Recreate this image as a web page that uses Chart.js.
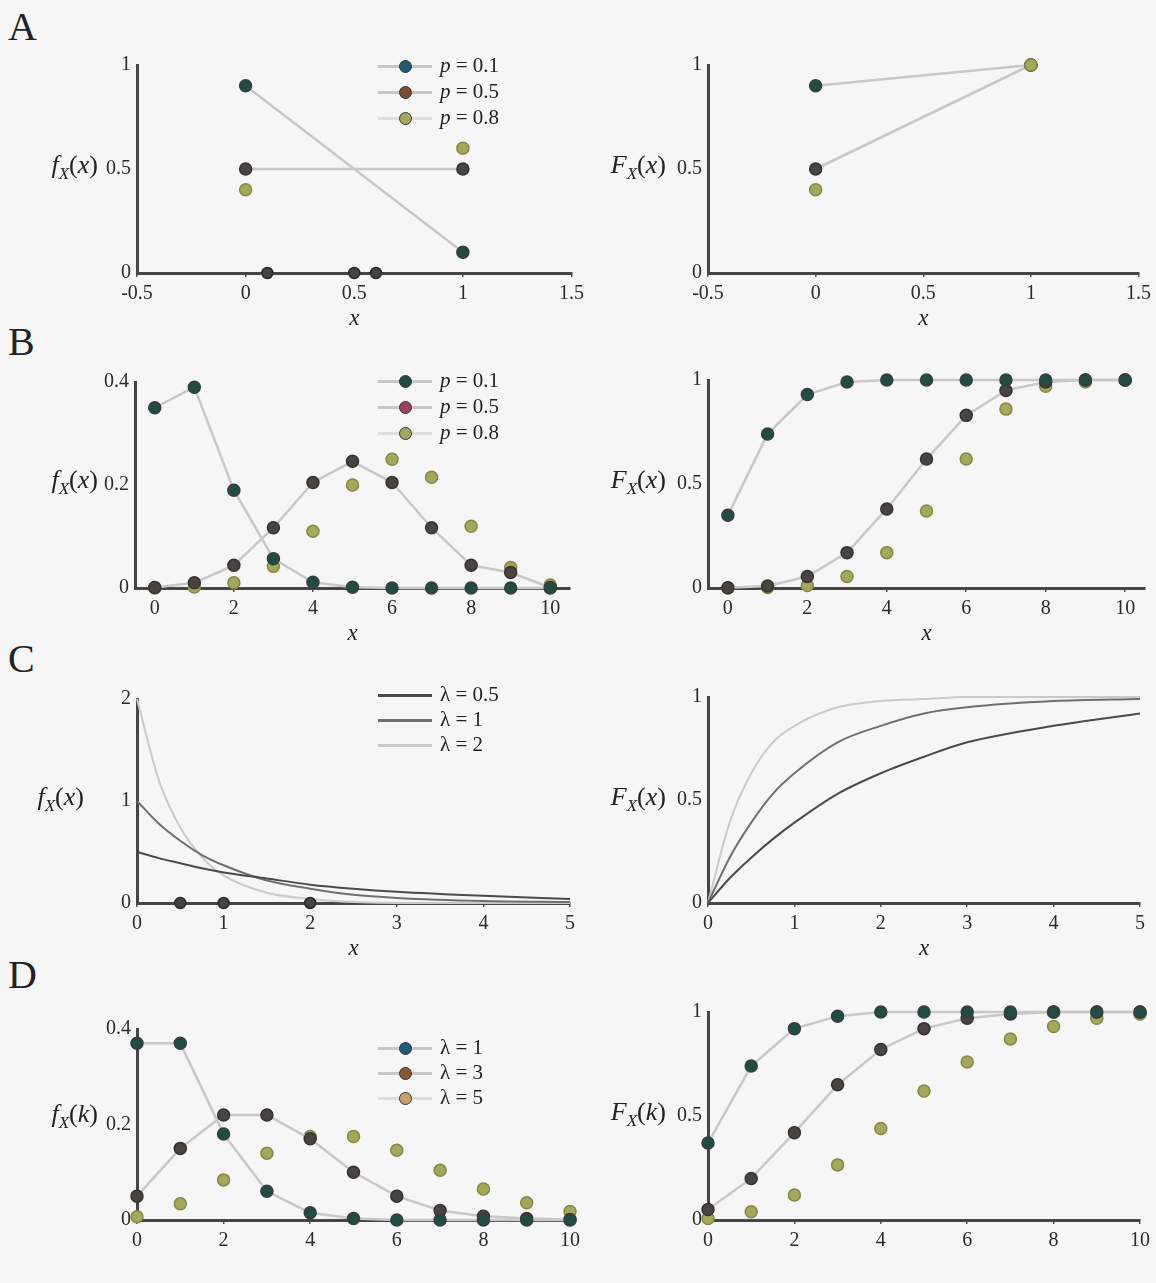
<!DOCTYPE html>
<html>
<head>
<meta charset="utf-8">
<script src="https://cdn.jsdelivr.net/npm/chart.js@4.4.1/dist/chart.umd.min.js"></script>
<style>
  body { margin: 0; background: #f6f6f6; }
  #fig { position: relative; width: 1156px; height: 1283px; overflow: hidden;
         font-family: "Liberation Serif", "DejaVu Serif", serif; color: #222; }
  .lbl { position: absolute; white-space: nowrap; }
  .letter { font-size: 40px; }
  .ytitle { font-size: 26px; }
  .ytitle sub { font-size: 17px; }
  .leg { font-size: 21px; }
</style>
</head>
<body>
<div id="fig"></div>
<script>
// ---- data ----
// A: Bernoulli
const bernX = [0, 1];
const bernPmf1 = [0.9, 0.1];
const bernPmf2 = [0.5, 0.5];
const bernPmf3 = [0.4, 0.6];
const bernZeroX = [0.1, 0.5, 0.6];
const bernZeroY = [0, 0, 0];
const bernCdf1 = [0.9, 1];
const bernCdf2 = [0.5, 1];
const bernCdf3 = [0.4, 1];
const bernLegend = ['0.1', '0.5', '0.8'];

// B: binomial
const binX = [0, 1, 2, 3, 4, 5, 6, 7, 8, 9, 10];
const binPmf1 = [0.35, 0.39, 0.19, 0.057, 0.011, 0.0015, 0, 0, 0, 0, 0];
const binPmf2 = [0.001, 0.01, 0.044, 0.117, 0.205, 0.246, 0.205, 0.117, 0.044, 0.03, 0.001];
const binPmf3 = [0, 0.002, 0.01, 0.042, 0.11, 0.2, 0.25, 0.215, 0.12, 0.04, 0.006];
const binCdf1 = [0.35, 0.74, 0.93, 0.99, 1, 1, 1, 1, 1, 1, 1];
const binCdf2 = [0.001, 0.01, 0.055, 0.17, 0.38, 0.62, 0.83, 0.95, 0.99, 1, 1];
const binCdf3 = [0, 0.002, 0.012, 0.055, 0.17, 0.37, 0.62, 0.86, 0.97, 0.99, 1];
const binLegend = ['0.1', '0.5', '0.8'];

// C: exponential
const expX = [0, 0.25, 0.5, 0.75, 1, 1.5, 2, 2.5, 3, 4, 5];
const expPdf05 = [0.5, 0.44, 0.39, 0.34, 0.3, 0.24, 0.18, 0.14, 0.11, 0.07, 0.04];
const expPdf1 = [1, 0.78, 0.61, 0.47, 0.37, 0.22, 0.14, 0.08, 0.05, 0.02, 0.01];
const expPdf2 = [2, 1.21, 0.74, 0.45, 0.27, 0.1, 0.04, 0.01, 0, 0, 0];
const expCdf05 = [0, 0.12, 0.22, 0.31, 0.39, 0.53, 0.63, 0.71, 0.78, 0.86, 0.92];
const expCdf1 = [0, 0.22, 0.39, 0.53, 0.63, 0.78, 0.86, 0.92, 0.95, 0.98, 0.99];
const expCdf2 = [0, 0.39, 0.63, 0.78, 0.86, 0.95, 0.98, 0.99, 1, 1, 1];
const expMarkX = [0.5, 1, 2];
const expMarkY = [0, 0, 0];
const expLegend = ['0.5', '1', '2'];

// D: Poisson
const poiX = [0, 1, 2, 3, 4, 5, 6, 7, 8, 9, 10];
const poiPmf1 = [0.37, 0.37, 0.18, 0.06, 0.015, 0.003, 0, 0, 0, 0, 0];
const poiPmf3 = [0.05, 0.15, 0.22, 0.22, 0.17, 0.1, 0.05, 0.02, 0.008, 0.003, 0.001];
const poiPmf5 = [0.007, 0.034, 0.084, 0.14, 0.175, 0.175, 0.146, 0.104, 0.065, 0.036, 0.018];
const poiCdf1 = [0.37, 0.74, 0.92, 0.98, 1, 1, 1, 1, 1, 1, 1];
const poiCdf3 = [0.05, 0.2, 0.42, 0.65, 0.82, 0.92, 0.97, 0.99, 1, 1, 1];
const poiCdf5 = [0.007, 0.04, 0.12, 0.265, 0.44, 0.62, 0.76, 0.87, 0.93, 0.97, 0.99];
const poiLegend = ['1', '3', '5'];

// tick labels
const bernTicksX = [-0.5, 0, 0.5, 1, 1.5];
const evenTicksX = [0, 2, 4, 6, 8, 10];
const expTicksX = [0, 1, 2, 3, 4, 5];
const halfTicksY = [0, 0.5, 1];
const smallTicksY = [0, 0.2, 0.4];
const expTicksY = [0, 1, 2];

// ---- drawing ----
const fig = document.getElementById('fig');
const SERIF = '"Liberation Serif", "DejaVu Serif", serif';
Chart.defaults.font.family = SERIF;
Chart.defaults.color = '#2b2b2b';

const LINE = '#c8c8c8';
const YW = 56, PAD = 16, XH = 70;

const STYLE = {
  s1: { showLine: true, borderColor: LINE, borderWidth: 2.5, pointRadius: 6,
        pointBackgroundColor: '#1f4d43', pointBorderColor: '#3c3c3c', pointBorderWidth: 1.5 },
  s2: { showLine: true, borderColor: LINE, borderWidth: 2.5, pointRadius: 6,
        pointBackgroundColor: '#4a4440', pointBorderColor: '#333333', pointBorderWidth: 1.5 },
  s3: { showLine: false, pointRadius: 6,
        pointBackgroundColor: '#a4a85c', pointBorderColor: '#86893f', pointBorderWidth: 1.5 },
  zero: { showLine: false, pointRadius: 5.5,
          pointBackgroundColor: '#444444', pointBorderColor: '#2a2a2a', pointBorderWidth: 1.5 },
  c05: { showLine: true, pointRadius: 0, borderColor: '#4a4a4a', borderWidth: 2, cubicInterpolationMode: 'monotone' },
  c1:  { showLine: true, pointRadius: 0, borderColor: '#707070', borderWidth: 2, cubicInterpolationMode: 'monotone' },
  c2:  { showLine: true, pointRadius: 0, borderColor: '#cacaca', borderWidth: 2, cubicInterpolationMode: 'monotone' }
};

function pts(xs, ys) {
  return xs.map((x, i) => ({ x: x, y: ys[i] }));
}

function drawPanel(p) {
  const [l, t, r, b] = p.area;
  const w = r - l + YW + PAD, h = b - t + PAD + XH;
  const c = document.createElement('canvas');
  c.width = w; c.height = h;
  c.style.cssText = `position:absolute;left:${l - YW}px;top:${t - PAD}px;width:${w}px;height:${h}px`;
  fig.appendChild(c);

  new Chart(c, {
    type: 'line',
    data: {
      datasets: p.sets.map(s => Object.assign({
        data: pts(s.x, s.y), clip: false, fill: false, pointHoverRadius: 0
      }, STYLE[s.style]))
    },
    options: {
      responsive: false,
      animation: false,
      events: [],
      layout: { padding: { top: PAD, right: PAD, left: 0, bottom: 0 }, autoPadding: false },
      plugins: { legend: { display: false }, tooltip: { enabled: false } },
      scales: {
        x: {
          type: 'linear', min: p.x[0], max: p.x[1],
          afterBuildTicks: s => { s.ticks = p.xTicks.map(v => ({ value: v })); },
          afterFit: s => { s.height = XH; },
          border: { color: '#454545', width: 3 },
          grid: { drawOnChartArea: false, tickLength: 4, color: '#555', lineWidth: 1.5 },
          ticks: { padding: 5, autoSkip: false, maxRotation: 0, font: { size: 20 },
                   callback: v => String(v) },
          title: { display: !!p.xTitle, text: p.xTitle, color: '#222',
                   font: { size: 23, style: 'italic' }, padding: { top: 4, bottom: 10 } }
        },
        y: {
          type: 'linear', min: p.y[0], max: p.y[1],
          afterBuildTicks: s => { s.ticks = p.yTicks.map(v => ({ value: v })); },
          afterFit: s => { s.width = YW; },
          border: { color: '#454545', width: 3 },
          grid: { drawOnChartArea: false, drawTicks: false },
          ticks: { padding: 6, autoSkip: false, font: { size: 20 }, callback: v => String(v) }
        }
      }
    }
  });
}

function addText(cls, html, x, y, alignRight) {
  const d = document.createElement('div');
  d.className = 'lbl ' + cls;
  d.innerHTML = html;
  if (alignRight) d.style.right = (1156 - x) + 'px'; else d.style.left = x + 'px';
  d.style.top = y + 'px';
  fig.appendChild(d);
  return d;
}

function addLegend(x, rows, sym, vals, lineColors, markColors) {
  rows.forEach((y, i) => {
    const ln = document.createElement('div');
    ln.style.cssText = `position:absolute;left:${x}px;top:${y - 1}px;width:54px;height:2.5px;background:${lineColors[i]}`;
    fig.appendChild(ln);
    if (markColors) {
      const m = document.createElement('div');
      m.style.cssText = `position:absolute;left:${x + 21}px;top:${y - 6}px;width:11px;height:11px;border-radius:50%;background:${markColors[i]};border:1px solid #333`;
      fig.appendChild(m);
    }
    addText('leg', sym + ' = ' + vals[i], x + 62, y - 13, false);
  });
}

// A
drawPanel({ area: [137, 63, 573, 273], x: [-0.5, 1.5], xTicks: bernTicksX, y: [0, 1], yTicks: halfTicksY, xTitle: 'x',
  sets: [
    { x: bernX, y: bernPmf3, style: 's3' },
    { x: bernX, y: bernPmf1, style: 's1' },
    { x: bernX, y: bernPmf2, style: 's2' },
    { x: bernZeroX, y: bernZeroY, style: 'zero' }
  ] });
drawPanel({ area: [708, 63, 1140, 273], x: [-0.5, 1.5], xTicks: bernTicksX, y: [0, 1], yTicks: halfTicksY, xTitle: 'x',
  sets: [
    { x: bernX, y: bernCdf3, style: 's3' },
    { x: bernX, y: bernCdf1, style: 's1' },
    { x: bernX, y: bernCdf2, style: 's2' }
  ] });

// B
drawPanel({ area: [135, 380, 570, 588], x: [-0.5, 10.5], xTicks: evenTicksX, y: [0, 0.4], yTicks: smallTicksY, xTitle: 'x',
  sets: [
    { x: binX, y: binPmf1, style: 's1' },
    { x: binX, y: binPmf2, style: 's2' },
    { x: binX, y: binPmf3, style: 's3' }
  ] });
drawPanel({ area: [708, 378, 1145, 588], x: [-0.5, 10.5], xTicks: evenTicksX, y: [0, 1], yTicks: halfTicksY, xTitle: 'x',
  sets: [
    { x: binX, y: binCdf1, style: 's1' },
    { x: binX, y: binCdf2, style: 's2' },
    { x: binX, y: binCdf3, style: 's3' }
  ] });

// C
drawPanel({ area: [137, 697, 570, 903], x: [0, 5], xTicks: expTicksX, y: [0, 2], yTicks: expTicksY, xTitle: 'x',
  sets: [
    { x: expMarkX, y: expMarkY, style: 'zero' },
    { x: expX, y: expPdf05, style: 'c05' },
    { x: expX, y: expPdf1, style: 'c1' },
    { x: expX, y: expPdf2, style: 'c2' }
  ] });
drawPanel({ area: [708, 695, 1140, 903], x: [0, 5], xTicks: expTicksX, y: [0, 1], yTicks: halfTicksY, xTitle: 'x',
  sets: [
    { x: expX, y: expCdf05, style: 'c05' },
    { x: expX, y: expCdf1, style: 'c1' },
    { x: expX, y: expCdf2, style: 'c2' }
  ] });

// D
drawPanel({ area: [137, 1027, 570, 1220], x: [0, 10], xTicks: evenTicksX, y: [0, 0.4], yTicks: smallTicksY, xTitle: '',
  sets: [
    { x: poiX, y: poiPmf1, style: 's1' },
    { x: poiX, y: poiPmf3, style: 's2' },
    { x: poiX, y: poiPmf5, style: 's3' }
  ] });
drawPanel({ area: [708, 1010, 1140, 1220], x: [0, 10], xTicks: evenTicksX, y: [0, 1], yTicks: halfTicksY, xTitle: '',
  sets: [
    { x: poiX, y: poiCdf1, style: 's1' },
    { x: poiX, y: poiCdf3, style: 's2' },
    { x: poiX, y: poiCdf5, style: 's3' }
  ] });

// panel letters
addText('letter', 'A', 8, 3, false);
addText('letter', 'B', 8, 318, false);
addText('letter', 'C', 8, 635, false);
addText('letter', 'D', 8, 951, false);

// y titles
const fx = '<i>f</i><sub><i>X</i></sub>(<i>x</i>)';
const Fx = '<i>F</i><sub><i>X</i></sub>(<i>x</i>)';
const fk = '<i>f</i><sub><i>X</i></sub>(<i>k</i>)';
const Fk = '<i>F</i><sub><i>X</i></sub>(<i>k</i>)';
addText('ytitle', fx, 98, 150, true);
addText('ytitle', Fx, 666, 150, true);
addText('ytitle', fx, 98, 465, true);
addText('ytitle', Fx, 666, 465, true);
addText('ytitle', fx, 84, 782, true);
addText('ytitle', Fx, 666, 782, true);
addText('ytitle', fk, 98, 1099, true);
addText('ytitle', Fk, 666, 1097, true);

// legends
const markCols = ['#1f5a78', '#7a5030', '#a4a85c'];
addLegend(378, [66, 92, 118], '<i>p</i>', bernLegend, [LINE, LINE, '#dddddd'], markCols);
addLegend(378, [381, 407, 433], '<i>p</i>', binLegend, [LINE, LINE, '#dddddd'], ['#1f4d43', '#a0405a', '#a4a85c']);
addLegend(378, [695, 720, 745], 'λ', expLegend, ['#4a4a4a', '#707070', '#cacaca'], null);
addLegend(378, [1048, 1073, 1098], 'λ', poiLegend, [LINE, LINE, '#dddddd'], ['#1f5a78', '#8a5a30', '#c8a070']);
</script>
</body>
</html>
